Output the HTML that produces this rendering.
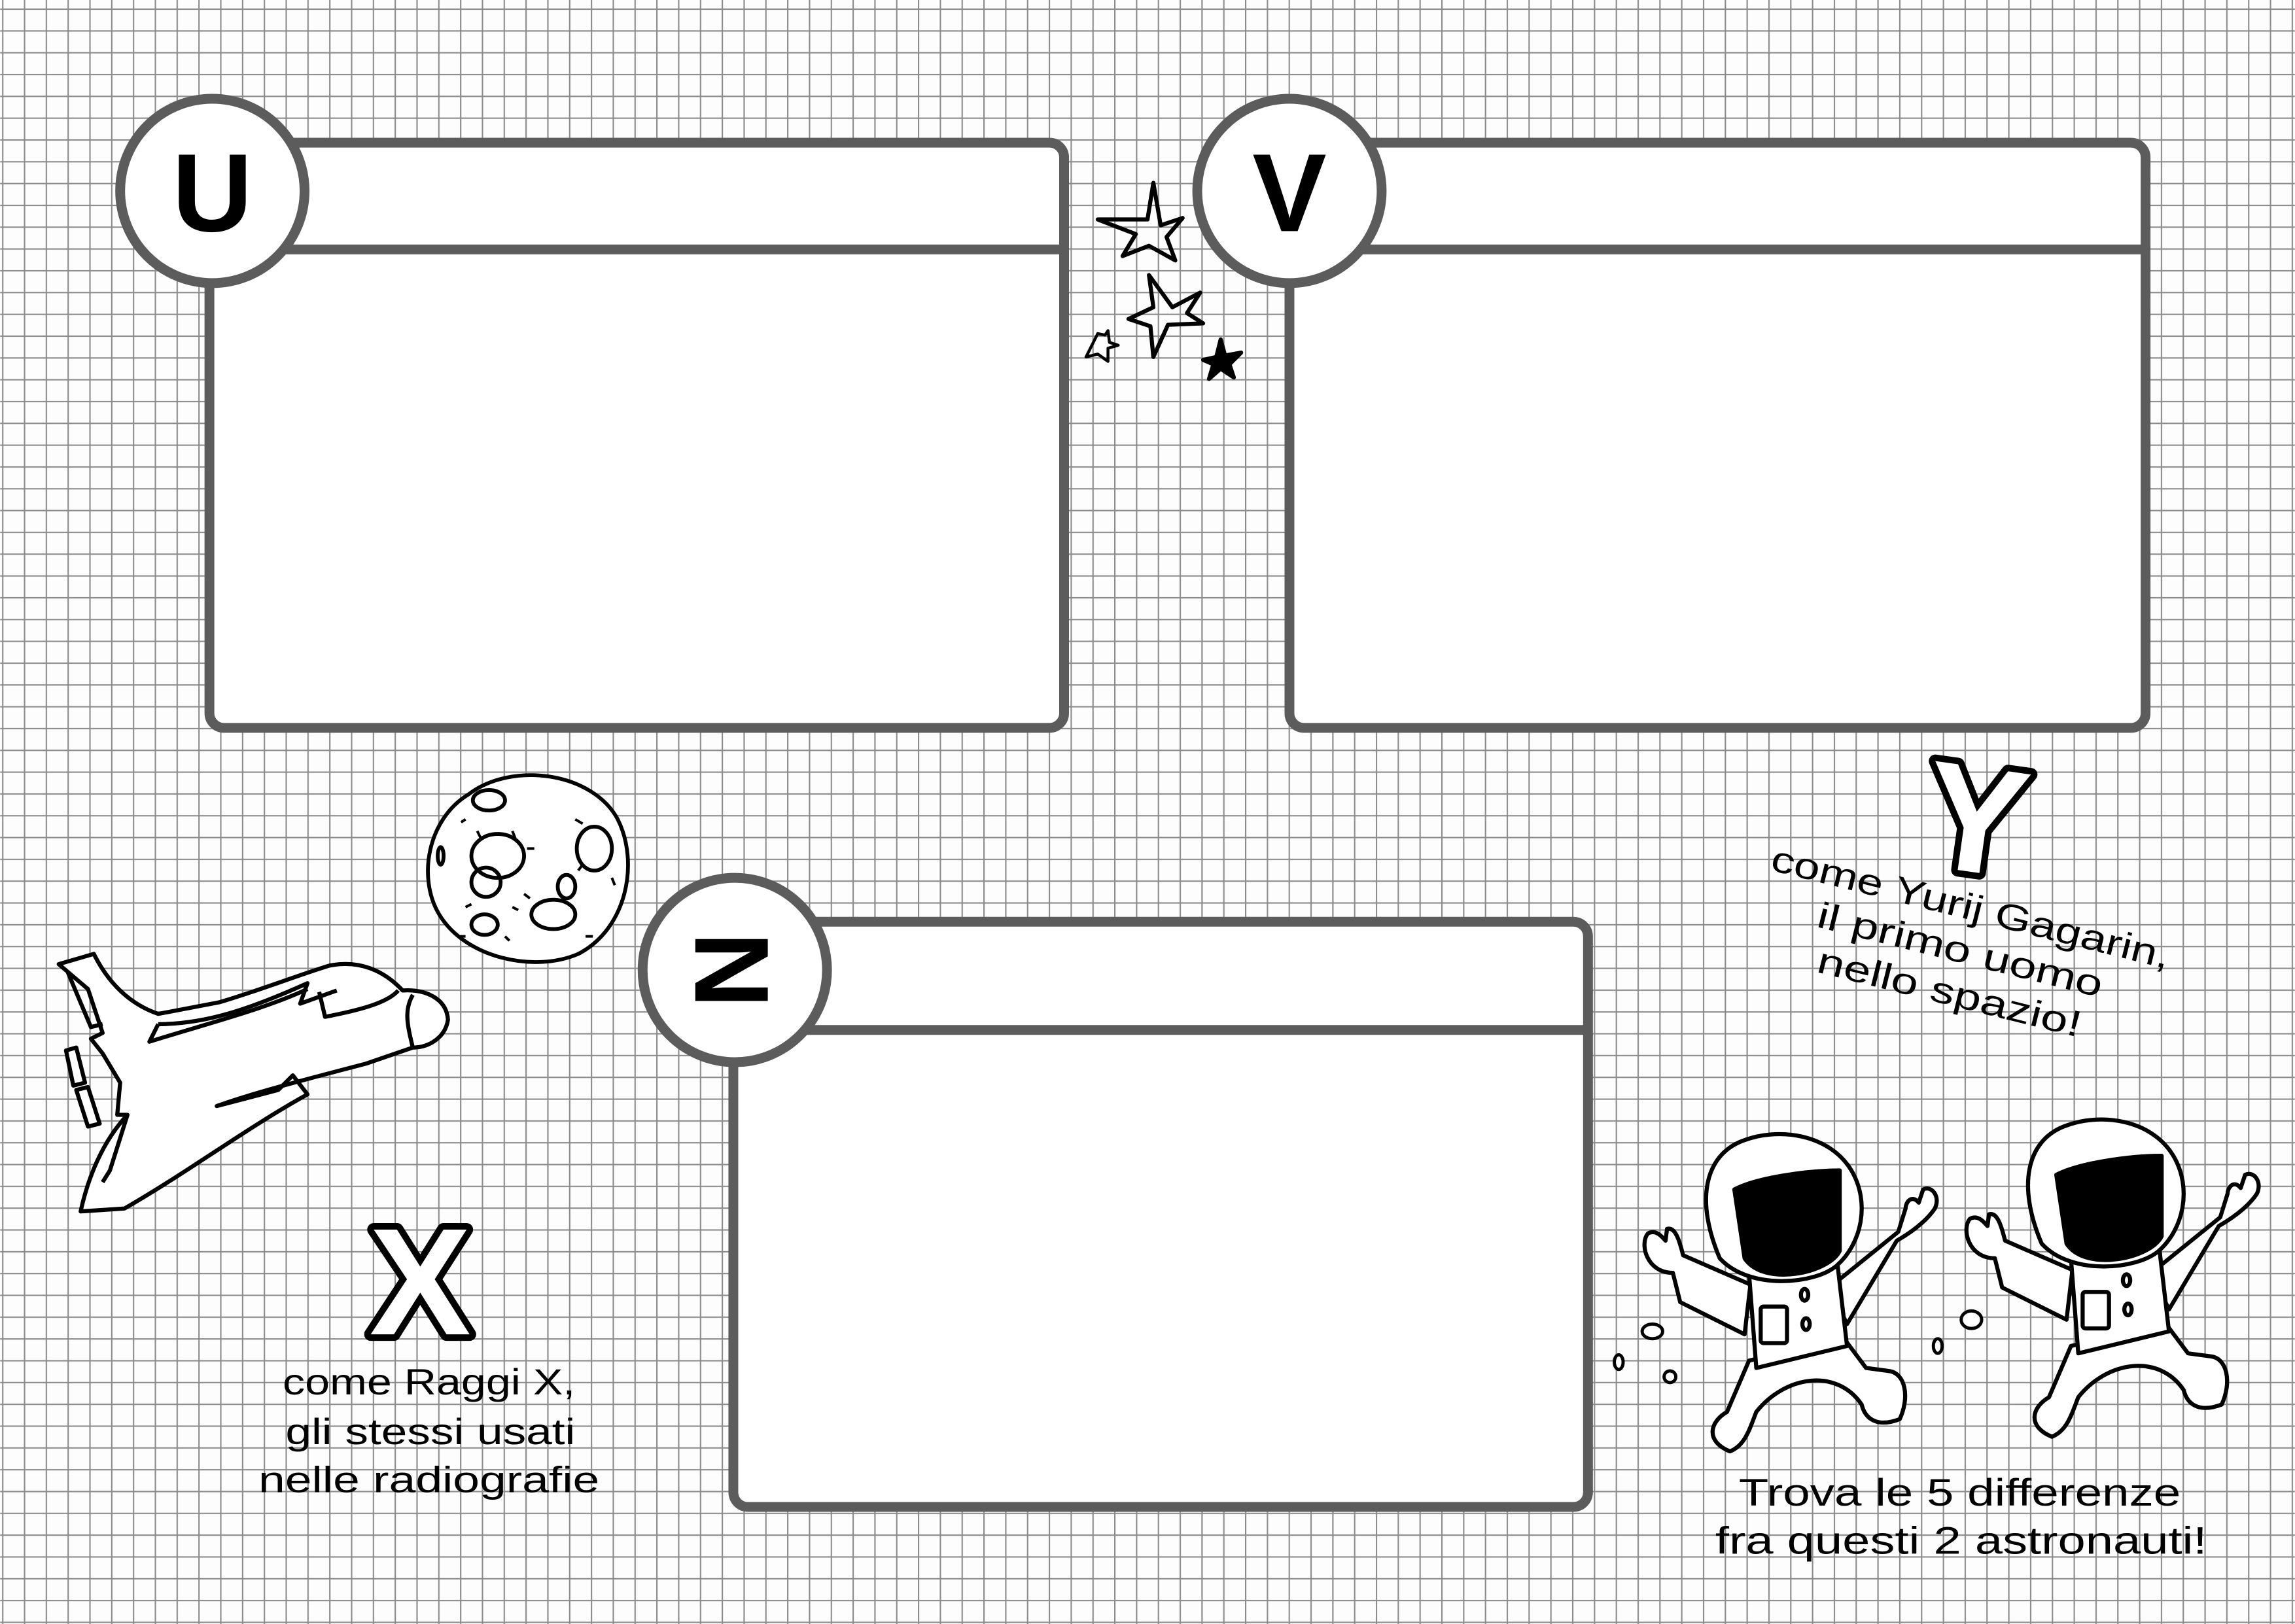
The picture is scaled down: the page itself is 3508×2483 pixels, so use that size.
<!DOCTYPE html>
<html><head><meta charset="utf-8"><style>
html,body{margin:0;padding:0;background:#fff;}
svg{display:block;}
text{font-family:"Liberation Sans","DejaVu Sans",sans-serif;}
</style></head><body>
<svg width="3508" height="2483" viewBox="0 0 1568 1110" xmlns="http://www.w3.org/2000/svg">
<defs>
<pattern id="g" x="1.3" y="5.8" width="14.9" height="14.9" patternUnits="userSpaceOnUse">
<path d="M0 0H14.9M0 0V14.9" stroke="#8c8c8c" stroke-width="1.9" fill="none"/>
</pattern>
</defs>
<rect width="1568" height="1110" fill="#fdfdfd"/>
<rect width="1568" height="1110" fill="url(#g)"/>

<g stroke="#5c5c5c" stroke-width="6.7" fill="#fff">
<rect x="143" y="97.5" width="584" height="400" rx="10"/>
<line x1="145" y1="170.5" x2="725" y2="170.5"/>
<circle cx="145" cy="130.5" r="63"/>
<rect x="881" y="97.5" width="585" height="400" rx="10"/>
<line x1="883" y1="170.5" x2="1464" y2="170.5"/>
<circle cx="881" cy="130.5" r="63"/>
<rect x="501" y="630" width="584" height="400" rx="10"/>
<line x1="503" y1="704" x2="1083" y2="704"/>
<circle cx="502" cy="663" r="63"/>
</g>
<g font-size="76" font-weight="bold" text-anchor="middle" fill="#000">
<text x="145" y="158">U</text>
<text x="881" y="158">V</text>
<text x="502" y="690" font-size="72" transform="rotate(90 502 663)">N</text>
</g>

<!-- stars -->
<g stroke="#000" stroke-width="2.8" fill="none" stroke-linejoin="round">
<path d="M788,125 L793,154 L808,149 L797,162 L803,178 L785,168 L767,175 L776,160 L750,150 L784,150 Z"/>
<path d="M785,188 L801,210 L820,200 L811,214 L822,221 L798,222 L788,244 L786,223 L771,218 L788,210 Z"/>
<path d="M750,228 L755,229 L757,226 L758,234 L764,236 L757,238 L757,247 L750,242 L742,244 L746,236 Z" stroke-width="2"/>
<path d="M834,232 L837,243 L848,241 L840,249 L843,258 L834,252 L826,259 L829,249 L822,246 L831,244 Z" fill="#000"/>
</g>

<!-- moon -->
<g stroke="#000" stroke-width="2.6" fill="none">
<path d="M320,543 C350,520 405,528 422,560 C437,590 428,635 395,652 C365,665 318,655 300,625 C285,600 292,560 320,543 Z" fill="#fff"/>
<ellipse cx="334" cy="547" rx="11" ry="7"/>
<ellipse cx="340" cy="585" rx="18" ry="15"/>
<ellipse cx="332" cy="603" rx="10" ry="10"/>
<ellipse cx="406" cy="580" rx="12" ry="15"/>
<ellipse cx="387" cy="606" rx="6" ry="8"/>
<ellipse cx="378" cy="625" rx="15" ry="10"/>
<ellipse cx="331" cy="632" rx="9" ry="7"/>
<ellipse cx="301" cy="585" rx="2" ry="6"/>
<path d="M318,560 l-3,2 M326,568 l3,6 M350,568 l2,5 M360,580 l5,0 M322,618 l-4,2 M350,620 l4,2 M318,640 l-4,0 M345,640 l3,3 M395,595 l3,-4 M400,640 l5,0 M362,614 l-4,-3 M418,600 l2,5 M393,560 l5,3" stroke-width="1.8"/>
</g>

<!-- shuttle -->
<g stroke="#000" stroke-width="2.8" fill="#fff" stroke-linejoin="round">
<path d="M40,659 L64,652 C72,668 85,685 108,693 L150,685 C180,676 205,666 225,660 C245,656 262,663 275,677 C290,676 305,682 306,697 C304,710 292,716 282,716 L250,727 C200,740 170,748 148,756 L190,745 L200,735 L210,748 C170,770 130,800 85,826 L55,828 C60,805 70,780 87,762 L80,762 L82,740 L70,720 L62,710 L70,706 L60,676 Z"/>
<path d="M46,664 L62,702 L70,700" fill="none"/>
<path d="M108,700 C140,700 170,690 210,672 L205,686 L230,677 M272,677 C265,685 248,690 222,695 L218,678 M282,716 C278,700 276,690 282,680" fill="none"/>
<path d="M108,700 L102,712 C140,700 180,690 210,676" fill="none"/>
<path d="M45,718 L52,716 L58,740 L50,742 Z M52,745 L60,743 L68,768 L60,770 Z"/>
<path d="M87,762 L75,800 L70,808" fill="none"/>
</g>

<!-- astronauts -->
<g id="astro" stroke="#000" stroke-width="2.8" fill="#fff" stroke-linejoin="round">
<path d="M1143,870 C1125,870 1120,850 1126,843 C1132,840 1136,846 1138,848 L1139,840 C1145,838 1148,850 1150,858 L1196,878 L1192,912 L1148,890 Z"/>
<path d="M1296,848 C1310,840 1318,832 1322,826 C1326,818 1320,810 1314,813 L1311,822 C1306,816 1302,822 1302,826 L1297,842 L1250,880 L1262,905 Z"/>
<path d="M1195,930 L1180,965 C1168,972 1165,985 1182,992 C1192,988 1195,978 1200,965 C1220,940 1255,935 1272,960 C1275,972 1285,975 1298,970 C1305,955 1302,938 1290,937 L1275,935 L1260,915 Z"/>
<path d="M1195,870 L1255,860 L1262,920 L1200,935 Z"/>
<rect x="1203" y="893" width="18" height="25" rx="2"/>
<ellipse cx="1233" cy="885" rx="2.5" ry="4"/><ellipse cx="1234" cy="905" rx="2.5" ry="4"/>
<path d="M1175,860 C1158,820 1165,790 1190,780 C1215,770 1250,775 1265,800 C1278,822 1272,850 1255,865 C1240,878 1195,882 1175,860 Z"/>
<path d="M1185,813 C1200,805 1235,800 1257,800 L1257,855 C1250,870 1205,880 1192,860 Z" fill="#000"/>
</g>
<use href="#astro" transform="translate(220,-10)"/>
<g stroke="#000" stroke-width="2.2" fill="#fff">
<ellipse cx="1129" cy="910" rx="7" ry="5"/>
<ellipse cx="1106" cy="931" rx="3" ry="5"/>
<ellipse cx="1141" cy="941" rx="4" ry="4"/>
<ellipse cx="1347" cy="902" rx="7" ry="6"/>
<ellipse cx="1324" cy="920" rx="3" ry="5"/>
</g>

<!-- X -->
<text x="287" y="912" font-size="104" font-weight="bold" text-anchor="middle" fill="#fff" stroke="#000" stroke-width="9" paint-order="stroke" stroke-linejoin="round">X</text>
<g font-size="25" text-anchor="middle" fill="#000" lengthAdjust="spacingAndGlyphs">
<text x="293" y="953" textLength="200" lengthAdjust="spacingAndGlyphs">come Raggi X,</text>
<text x="294" y="987" textLength="198" lengthAdjust="spacingAndGlyphs">gli stessi usati</text>
<text x="293" y="1020" textLength="233" lengthAdjust="spacingAndGlyphs">nelle radiografie</text>
</g>

<!-- Y -->
<text x="1350" y="596" font-size="104" font-weight="bold" text-anchor="middle" fill="#fff" stroke="#000" stroke-width="9" paint-order="stroke" stroke-linejoin="round" transform="rotate(8 1350 560)">Y</text>
<g font-size="25" text-anchor="middle" fill="#000" transform="rotate(14 1340 655)">
<text x="1338" y="628" textLength="280" lengthAdjust="spacingAndGlyphs">come Yurij Gagarin,</text>
<text x="1338" y="658" textLength="200" lengthAdjust="spacingAndGlyphs">il primo uomo</text>
<text x="1338" y="688" textLength="185" lengthAdjust="spacingAndGlyphs">nello spazio!</text>
</g>

<g font-size="26" text-anchor="middle" fill="#000">
<text x="1339" y="1029" textLength="302" lengthAdjust="spacingAndGlyphs">Trova le 5 differenze</text>
<text x="1340" y="1062" textLength="336" lengthAdjust="spacingAndGlyphs">fra questi 2 astronauti!</text>
</g>
</svg>
</body></html>
